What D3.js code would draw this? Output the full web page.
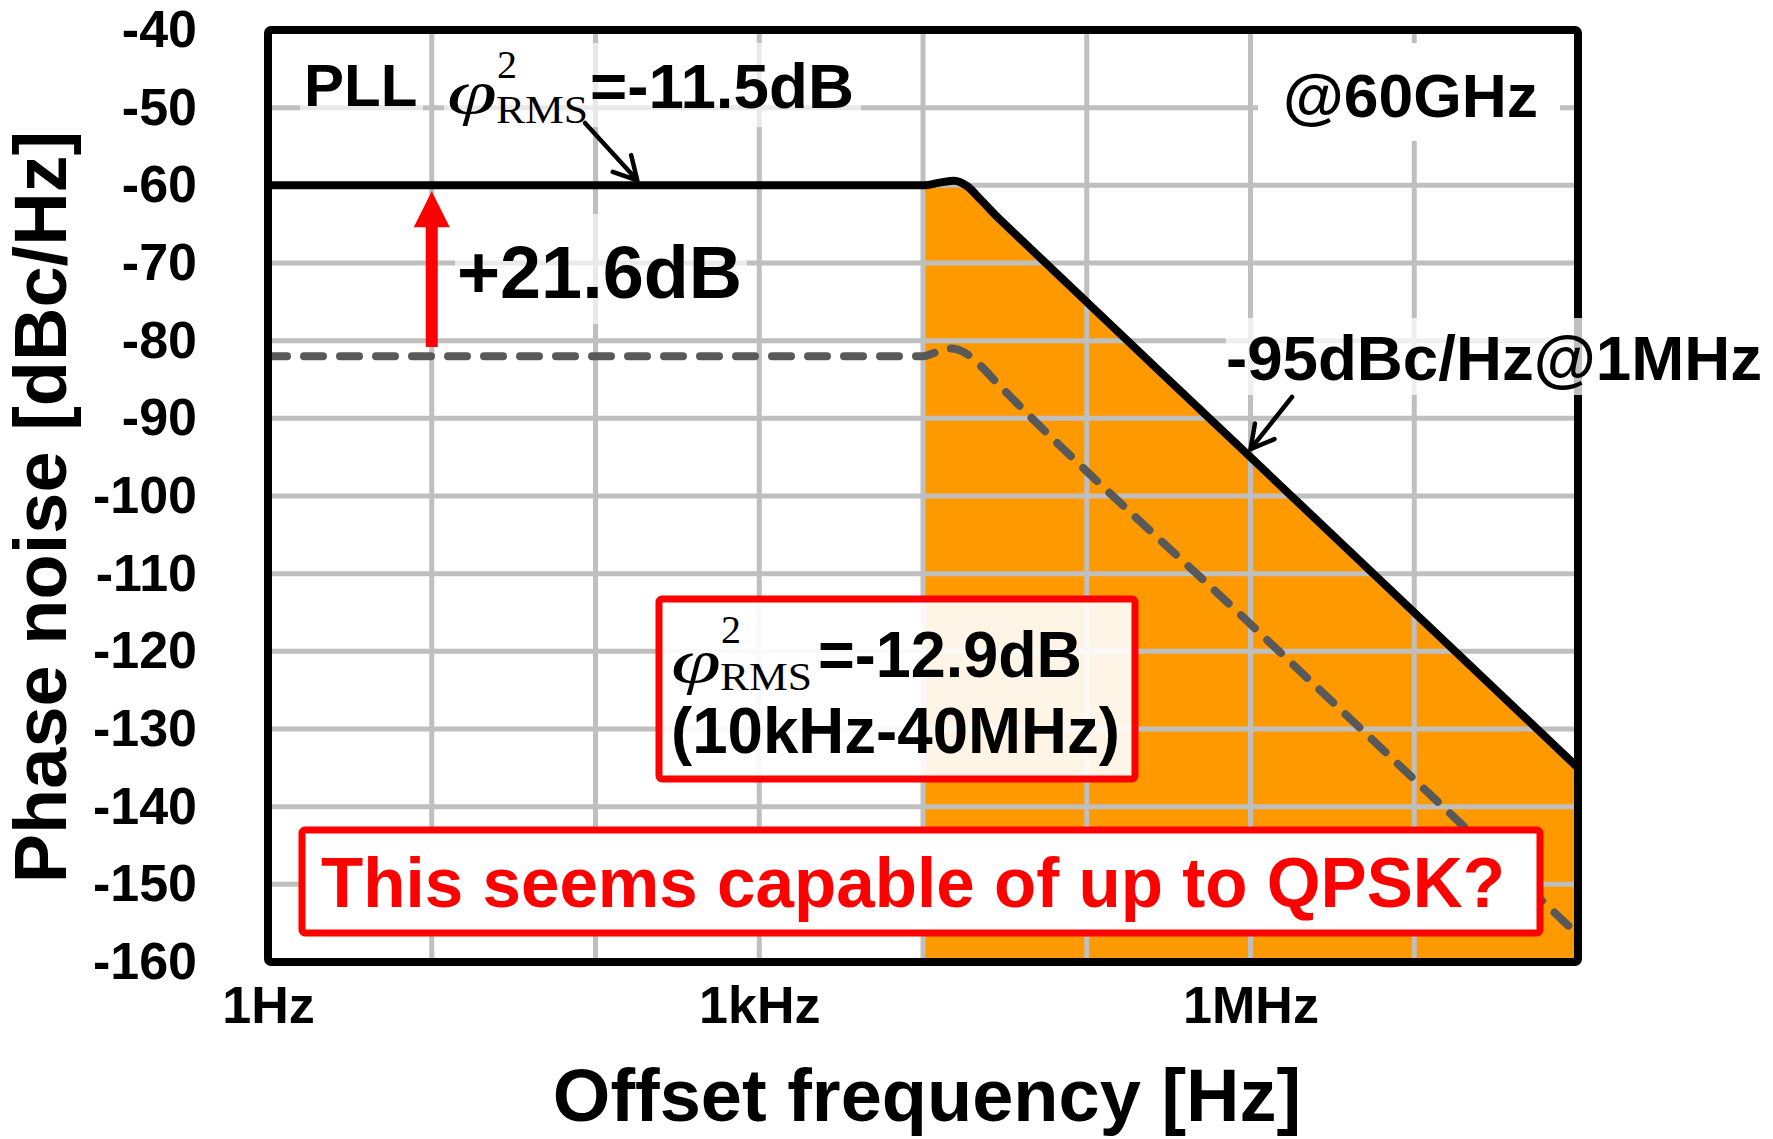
<!DOCTYPE html>
<html><head><meta charset="utf-8">
<script src="https://cdn.jsdelivr.net/npm/d3@7"></script>
<style>
html,body{margin:0;padding:0;background:#fff;}
svg{display:block;}
</style></head><body>
<svg id="chart" width="1773" height="1139"></svg>
<script>
// ---------------- data ----------------
const yTickValues = [-40,-50,-60,-70,-80,-90,-100,-110,-120,-130,-140,-150,-160];
const xGridValues = [1,10,100,1e3,1e4,1e5,1e6,1e7,1e8];
const xTickValues = [1,1e3,1e6];
const xTickLabels = ["1Hz","1kHz","1MHz"];
// PLL phase noise (solid)
const pllFreq  = [1, 1e4, 12600, 15500, 18600, 22400, 28200, 31600, 1e6, 1e8];
const pllNoise = [-60, -60, -59.65, -59.4, -60.1, -61.8, -64, -65, -95, -135];
// reference (dashed)
const refFreq  = [1, 1e4, 12000, 14800, 18200, 22400, 28200, 33100, 1e6, 1e8];
const refNoise = [-82, -82, -81.5, -81.0, -81.6, -83.2, -85.4, -86.9, -116.5, -156.5];
const bandStart = 1e4;             // shaded integration band start
const gainArrowFreq = 10;          // +21.6 dB arrow position
const gainArrowDb = [-81.6, -60];  // from / to
const spotFreq = 1e6, spotDb = -95;

// ---------------- setup ----------------
const W = 1773, H = 1139;
const L = 268, R = 1578, T = 30, B = 962;
const svg = d3.select("#chart");
const x = d3.scaleLog().domain([1, 1e8]).range([L, R]);
const y = d3.scaleLinear().domain([-160, -40]).range([B, T]);
const SANS = "'Liberation Sans', Arial, Helvetica, sans-serif";
const SERIF = "'Liberation Serif', 'Times New Roman', serif";

svg.append("rect").attr("width", W).attr("height", H).attr("fill", "#fff");
svg.append("defs").append("clipPath").attr("id", "clip")
  .append("rect").attr("x", L).attr("y", T).attr("width", R - L).attr("height", B - T);

const plot = svg.append("g").attr("clip-path", "url(#clip)");

// shaded band under PLL curve
const pllPts = pllFreq.map((f, i) => [f, pllNoise[i]]);
const refPts = refFreq.map((f, i) => [f, refNoise[i]]);
const bandPts = pllPts.filter(p => p[0] >= bandStart);
plot.append("path")
  .attr("d", d3.area().x(d => x(d[0])).y0(y(-160)).y1(d => y(d[1])).curve(d3.curveMonotoneX)(bandPts))
  .attr("fill", "#FF9900");

// grid
plot.selectAll(".vg").data(xGridValues.slice(1, -1)).enter().append("line")
  .attr("x1", d => x(d)).attr("x2", d => x(d)).attr("y1", T).attr("y2", B)
  .attr("stroke", "#bfbfbf").attr("stroke-width", 5);
plot.selectAll(".hg").data(yTickValues.slice(1, -1)).enter().append("line")
  .attr("y1", d => y(d)).attr("y2", d => y(d)).attr("x1", L).attr("x2", R)
  .attr("stroke", "#bfbfbf").attr("stroke-width", 5);

const line = d3.line().x(d => x(d[0])).y(d => y(d[1])).curve(d3.curveMonotoneX);
plot.append("path").attr("d", line(refPts)).attr("fill", "none")
  .attr("stroke", "#595959").attr("stroke-width", 8)
  .attr("stroke-dasharray", "19,17").attr("stroke-linecap", "round");
plot.append("path").attr("d", line(pllPts)).attr("fill", "none")
  .attr("stroke", "#000").attr("stroke-width", 8).attr("stroke-linejoin", "round");

// frame
svg.append("rect").attr("x", L).attr("y", T).attr("width", R - L).attr("height", B - T)
  .attr("fill", "none").attr("stroke", "#000").attr("stroke-width", 8).attr("rx", 3);

// axes
const yAxis = d3.axisLeft(y).tickValues(yTickValues).tickFormat(d => String(d))
  .tickSize(0).tickPadding(71);
const gy = svg.append("g").attr("transform", `translate(${L},0)`).call(yAxis);
gy.select(".domain").remove();
gy.selectAll("text").attr("font-family", SANS).attr("font-weight", "bold")
  .attr("font-size", 52).attr("fill", "#000");

const xAxis = d3.axisBottom(x).tickValues(xTickValues).tickFormat((d, i) => xTickLabels[i])
  .tickSize(0).tickPadding(24);
const gx = svg.append("g").attr("transform", `translate(0,${B})`).call(xAxis);
gx.select(".domain").remove();
gx.selectAll("text").attr("font-family", SANS).attr("font-weight", "bold")
  .attr("font-size", 52).attr("fill", "#000");

svg.append("text").attr("x", 927).attr("y", 1121).attr("text-anchor", "middle")
  .attr("font-family", SANS).attr("font-weight", "bold").attr("font-size", 74)
  .text("Offset frequency [Hz]");
svg.append("text").attr("transform", "translate(66,507) rotate(-90)").attr("text-anchor", "middle")
  .attr("font-family", SANS).attr("font-weight", "bold").attr("font-size", 74)
  .text("Phase noise [dBc/Hz]");

// ---------------- annotations ----------------
const ann = svg.append("g");
function bg(x0, y0, w, h, op) {
  ann.append("rect").attr("x", x0).attr("y", y0).attr("width", w).attr("height", h)
    .attr("fill", "#fff").attr("fill-opacity", op);
}
bg(300, 43, 123, 84, 0.65);
bg(444, 43, 417, 84, 0.65);
bg(455, 214, 292, 110, 0.65);
bg(1258, 43, 302, 98, 1);
bg(1226, 318, 546, 77, 0.75);

function txt(str, xx, yy, size, opts = {}) {
  const t = ann.append("text").attr("x", xx).attr("y", yy)
    .attr("font-family", opts.family || SANS)
    .attr("font-weight", opts.weight || "bold")
    .attr("font-style", opts.style || "normal")
    .attr("font-size", size).attr("fill", opts.fill || "#000").text(str);
  if (opts.len) t.attr("textLength", opts.len).attr("lengthAdjust", "spacingAndGlyphs");
  return t;
}
function phiRms(x0, base, supDy, subDy) {
  txt("\u03C6", x0, base + 5, 62, {family: SERIF, style: "italic", weight: "normal", len: 50});
  txt("2", x0 + 50, base + supDy, 40, {family: SERIF, weight: "normal"});
  txt("RMS", x0 + 49, base + subDy, 40, {family: SERIF, weight: "normal", len: 92});
}

txt("PLL", 304, 106, 60);
phiRms(447, 108, -30, 15);
txt("=-11.5dB", 590, 108, 63, {len: 264});
txt("@60GHz", 1283, 117, 62, {len: 255});
txt("+21.6dB", 457, 298, 74, {len: 285});
txt("-95dBc/Hz@1MHz", 1226, 380, 63, {len: 536});

// box with phi = -12.9dB
ann.append("rect").attr("x", 659).attr("y", 599).attr("width", 476).attr("height", 180)
  .attr("fill", "#fff").attr("fill-opacity", 0.9).attr("stroke", "#FF0000").attr("stroke-width", 7).attr("rx", 3);
phiRms(671, 677, -34, 13);
txt("=-12.9dB", 818, 677, 64, {len: 264});
txt("(10kHz-40MHz)", 671, 753, 64, {len: 449});

// QPSK box
ann.append("rect").attr("x", 302).attr("y", 830).attr("width", 1238).attr("height", 103)
  .attr("fill", "#fff").attr("stroke", "#FF0000").attr("stroke-width", 7).attr("rx", 3);
txt("This seems capable of up to QPSK?", 321, 907, 69.5, {fill: "#FF0000", len: 1184});

// red +21.6 dB arrow
const ax = x(gainArrowFreq), yb = y(gainArrowDb[0]) - 6, yt = y(gainArrowDb[1]) + 6;
const sw = 6, hw = 18, hl = 36;
ann.append("path").attr("fill", "#FF0000")
  .attr("d", `M${ax - sw},${yb} L${ax - sw},${yt + hl} L${ax - hw},${yt + hl} L${ax},${yt} L${ax + hw},${yt + hl} L${ax + sw},${yt + hl} L${ax + sw},${yb} Z`);

// black pointer arrows (open heads)
function pointer(x1, y1, x2, y2) {
  const a = Math.atan2(y2 - y1, x2 - x1), hl2 = 26, sp = 0.5;
  const p1 = [x2 - hl2 * Math.cos(a - sp), y2 - hl2 * Math.sin(a - sp)];
  const p2 = [x2 - hl2 * Math.cos(a + sp), y2 - hl2 * Math.sin(a + sp)];
  ann.append("path").attr("fill", "none").attr("stroke", "#000").attr("stroke-width", 4.5)
    .attr("stroke-linecap", "round").attr("stroke-linejoin", "round")
    .attr("d", `M${x1},${y1} L${x2},${y2} M${p1[0]},${p1[1]} L${x2},${y2} L${p2[0]},${p2[1]}`);
}
pointer(585, 123, x(180), y(-60) - 5);
pointer(1292, 397, x(spotFreq), y(spotDb) - 8);
</script>
</body></html>
